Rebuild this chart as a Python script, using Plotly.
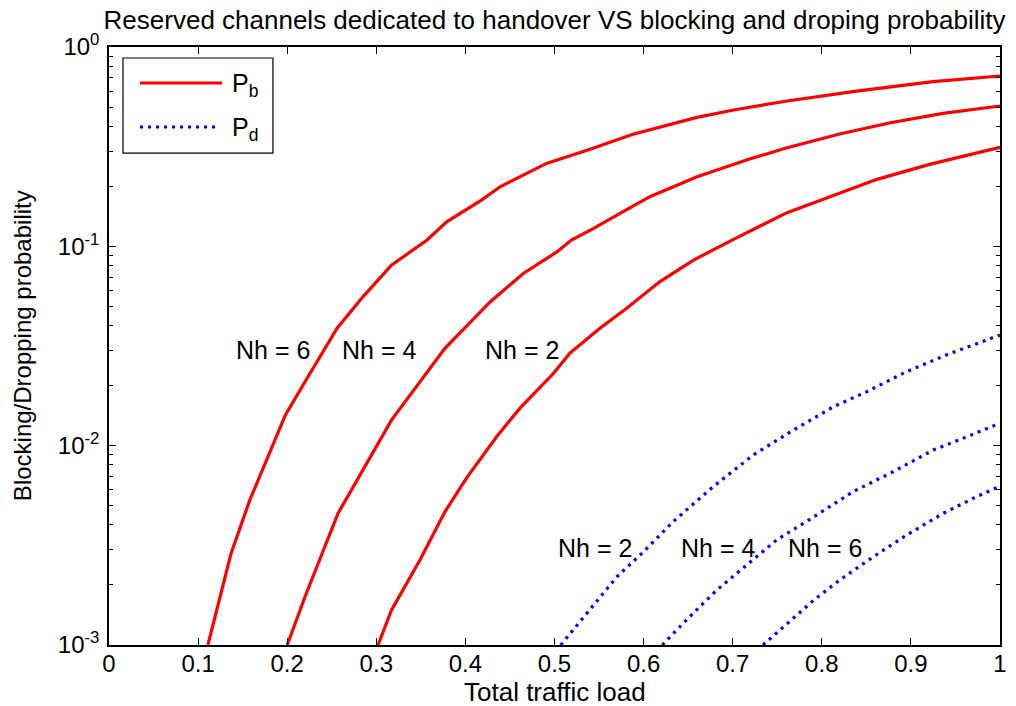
import plotly.graph_objects as go

# Total traffic load (x) and blocking / dropping probabilities (y)
pb6_x = [0.111, 0.137, 0.158, 0.198, 0.221, 0.256, 0.285, 0.317, 0.357, 0.379, 0.418,
         0.439, 0.491, 0.540, 0.588, 0.660, 0.701, 0.761, 0.839, 0.925, 1.0]
pb6_y = [0.001, 0.00288, 0.00533, 0.01426, 0.0213, 0.0388, 0.0558, 0.0805, 0.1076, 0.1327,
         0.1706, 0.199, 0.2606, 0.3069, 0.3648, 0.4436, 0.4831, 0.5358, 0.6012, 0.6699, 0.7154]

pb4_x = [0.200, 0.220, 0.257, 0.317, 0.377, 0.428, 0.465, 0.503, 0.519, 0.544, 0.574,
         0.607, 0.660, 0.718, 0.759, 0.820, 0.877, 0.936, 1.0]
pb4_y = [0.001, 0.001746, 0.004571, 0.01343, 0.03076, 0.05272, 0.07311, 0.09397, 0.1076,
         0.1230, 0.1466, 0.1774, 0.2234, 0.2732, 0.3105, 0.3660, 0.4169, 0.4645, 0.5058]

pb2_x = [0.302, 0.317, 0.349, 0.377, 0.401, 0.435, 0.461, 0.499, 0.517, 0.551, 0.581,
         0.618, 0.656, 0.701, 0.761, 0.819, 0.862, 0.921, 0.978, 1.0]
pb2_y = [0.001, 0.001496, 0.002667, 0.004656, 0.006855, 0.01109, 0.01538, 0.02307, 0.02904,
         0.03882, 0.04887, 0.06637, 0.08531, 0.1084, 0.1476, 0.1845, 0.2168, 0.2576, 0.2965, 0.3141]

pd2_x = [0.507, 0.536, 0.570, 0.600, 0.633, 0.678, 0.723, 0.768, 0.813, 0.850, 0.895, 0.944, 1.0]
pd2_y = [0.001, 0.001439, 0.002198, 0.002938, 0.004150, 0.006223, 0.008974, 0.01197,
         0.01567, 0.01862, 0.02350, 0.02904, 0.03589]

pd4_x = [0.621, 0.648, 0.682, 0.716, 0.749, 0.791, 0.835, 0.880, 0.925, 0.963, 1.0]
pd4_y = [0.001, 0.001334, 0.001884, 0.002518, 0.003357, 0.004395, 0.005875, 0.007396,
         0.009506, 0.01109, 0.01297]

pd6_x = [0.734, 0.761, 0.791, 0.820, 0.858, 0.895, 0.936, 0.970, 1.0]
pd6_y = [0.001, 0.001282, 0.001679, 0.002118, 0.002773, 0.003556, 0.004571, 0.005445, 0.006266]

x_ticks = [0, 0.1, 0.2, 0.3, 0.4, 0.5, 0.6, 0.7, 0.8, 0.9, 1]
x_ticktext = ["0", "0.1", "0.2", "0.3", "0.4", "0.5", "0.6", "0.7", "0.8", "0.9", "1"]
y_ticks = [0.001, 0.01, 0.1, 1]
y_ticktext = ["10<sup>-3</sup>", "10<sup>-2</sup>", "10<sup>-1</sup>", "10<sup>0</sup>"]
y_minor = [m * d for d in (0.001, 0.01, 0.1) for m in range(2, 10)]

# curve labels: (text, x, log10 y)
pb_labels = [("Nh = 6", 0.1835, -1.52), ("Nh = 4", 0.303, -1.52), ("Nh = 2", 0.464, -1.52)]
pd_labels = [("Nh = 2", 0.5455, -2.514), ("Nh = 4", 0.683, -2.514), ("Nh = 6", 0.8036, -2.514)]

FONT = "Liberation Sans, Arial, sans-serif"
RED = "#ff0000"
BLUE = "#0000ff"
DOTS = "3px,5px"
TXT = 25

fig = go.Figure()
for xs, ys in ((pb6_x, pb6_y), (pb4_x, pb4_y), (pb2_x, pb2_y)):
    fig.add_trace(go.Scatter(x=xs, y=ys, mode="lines", showlegend=False,
                             line=dict(color=RED, width=3.2)))
for xs, ys in ((pd2_x, pd2_y), (pd4_x, pd4_y), (pd6_x, pd6_y)):
    fig.add_trace(go.Scatter(x=xs, y=ys, mode="lines", showlegend=False,
                             line=dict(color=BLUE, width=3.2, dash=DOTS)))

annotations = []
for text, x, ly in pb_labels + pd_labels:
    annotations.append(dict(x=x, y=ly, xref="x", yref="y", text=text, showarrow=False,
                            font=dict(family=FONT, size=TXT, color="black"),
                            xanchor="center", yanchor="middle"))

# axis titles
annotations += [
    dict(x=0.5, y=-0.0785, xref="paper", yref="paper", text="Total traffic load",
         showarrow=False, font=dict(family=FONT, size=26, color="black"),
         xanchor="center", yanchor="middle"),
    dict(x=-0.0975, y=0.5, xref="paper", yref="paper", text="Blocking/Dropping probability",
         showarrow=False, textangle=-90, font=dict(family=FONT, size=24, color="black"),
         xanchor="center", yanchor="middle"),
]

# legend box
shapes = [
    dict(type="rect", xref="paper", yref="paper", x0=0.0157, x1=0.184, y0=0.8227, y1=0.9816,
         line=dict(color="black", width=1.2), fillcolor="white", layer="above"),
    dict(type="line", xref="paper", yref="paper", x0=0.0348, x1=0.1268, y0=0.9398, y1=0.9398,
         line=dict(color=RED, width=3.2), layer="above"),
    dict(type="line", xref="paper", yref="paper", x0=0.0348, x1=0.1223, y0=0.8662, y1=0.8662,
         line=dict(color=BLUE, width=3.2, dash=DOTS), layer="above"),
]
annotations += [
    dict(x=0.136, y=0.9365, xref="paper", yref="paper", text="P<sub>b</sub>", showarrow=False,
         font=dict(family=FONT, size=TXT, color="black"), xanchor="left", yanchor="middle"),
    dict(x=0.136, y=0.8625, xref="paper", yref="paper", text="P<sub>d</sub>", showarrow=False,
         font=dict(family=FONT, size=TXT, color="black"), xanchor="left", yanchor="middle"),
]

axis_common = dict(showline=True, linecolor="black", linewidth=1.5, mirror="allticks",
                   ticks="inside", tickcolor="black", tickwidth=1, showgrid=False,
                   zeroline=False, automargin=False,
                   tickfont=dict(family=FONT, size=24, color="black"))

fig.update_layout(
    width=1016, height=706,
    margin=dict(l=109, r=16, t=47, b=61),
    paper_bgcolor="white", plot_bgcolor="white",
    font=dict(family=FONT, size=TXT, color="black"),
    title=dict(text="Reserved channels dedicated to handover VS blocking and droping probability",
               x=0.5458, xanchor="center", y=0.972, yanchor="middle",
               font=dict(family=FONT, size=26, color="black")),
    xaxis=dict(range=[0, 1], tickmode="array", tickvals=x_ticks, ticktext=x_ticktext,
               ticklen=7, ticklabelstandoff=-4, **axis_common),
    yaxis=dict(type="log", range=[-3, 0], tickmode="array", tickvals=y_ticks,
               ticktext=y_ticktext, ticklen=7, ticklabelstandoff=3,
               minor=dict(tickmode="array", tickvals=y_minor, ticks="inside", ticklen=4,
                          tickcolor="black", tickwidth=1),
               **axis_common),
    shapes=shapes,
    annotations=annotations,
)

fig.write_html("out.html")
